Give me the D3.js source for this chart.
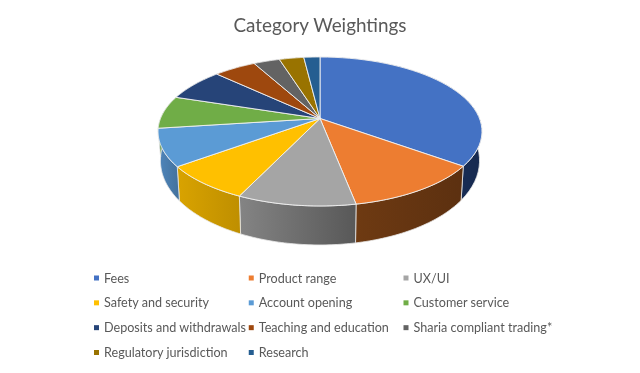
<!DOCTYPE html>
<html>
<head>
<meta charset="utf-8">
<script src="https://d3js.org/d3.v7.min.js"></script>
<style>
    html, body { margin: 0; padding: 0; background: #fff; }
    svg { display: block; filter: blur(0.35px); }
    text { font-family: Lato, "Open Sans", sans-serif; fill: #595959; }
</style>
</head>
<body>
<script>
    const categories = ["Fees", "Product range", "UX/UI", "Safety and security", "Account opening", "Customer service",
        "Deposits and withdrawals", "Teaching and education", "Sharia compliant trading*", "Regulatory jurisdiction", "Research"];
    const weights = [35.1, 11.9, 10.0, 7.8, 8.1, 7.1, 7.1, 5.0, 3.1, 2.9, 1.9];
    const topColours = ["#4472c4", "#ed7d31", "#a5a5a5", "#ffc000", "#5b9bd5", "#70ad47",
        "#264478", "#9e480e", "#636363", "#997300", "#255e91"];
    const wallLeft = ["#2a4478", "#6e3a12", "#848484", "#d9a300", "#4f86bc", "#5f9340",
        "#203a66", "#86400c", "#555555", "#826200", "#20507c"];
    const wallRight = ["#16294f", "#5c3010", "#585858", "#bf8f00", "#44739f", "#4f7a35",
        "#1a2f54", "#6e340a", "#444444", "#6a5000", "#1a4266"];

    const width = 640, height = 373;
    const svg = d3.select("body").append("svg").attr("width", width).attr("height", height);

    svg.append("text")
        .attr("x", 320).attr("y", 32)
        .attr("text-anchor", "middle")
        .attr("font-size", 18.9)
        .text("Category Weightings");

    // tilted disc: perspective puts the apex above the middle of the ellipse
    const cx = 320, cy = 118.5, a = 159.5, b = 72.2, k = 0.1745;
    function project(theta, r, down) {
        const u = r * Math.sin(theta), v = -r * Math.cos(theta);
        const w = 1 - k * v;
        if (!down) return [cx + a * u / w, cy + b * v / w];
        return [cx + 0.985 * a * u / w, cy + b * v / w + 27 + 12 * v];
    }
    const angles = (start, end) => d3.range(0, 41).map(i => start + (end - start) * i / 40);
    const line = d3.line();

    const slices = d3.pie().sort(null).value(d => d)(weights);
    const defs = svg.append("defs");

    // side walls first, the top covers whatever faces away
    const walls = svg.append("g");
    slices.forEach((s, i) => {
        const outer = angles(s.startAngle, s.endAngle);
        const rim = outer.map(t => project(t, 1, false));
        const low = outer.map(t => project(t, 1, true)).reverse();
        const xs = rim.map(p => p[0]);
        const g = defs.append("linearGradient")
            .attr("id", "wall" + i)
            .attr("gradientUnits", "userSpaceOnUse")
            .attr("x1", d3.min(xs)).attr("x2", d3.max(xs))
            .attr("y1", 0).attr("y2", 0);
        g.append("stop").attr("offset", 0).attr("stop-color", wallLeft[i]);
        g.append("stop").attr("offset", 1).attr("stop-color", wallRight[i]);
        walls.append("path")
            .attr("d", line(rim.concat(low)) + "Z")
            .attr("fill", `url(#wall${i})`)
            .attr("stroke", "#e8e8e8")
            .attr("stroke-width", 0.8);
    });

    const tops = svg.append("g");
    slices.forEach((s, i) => {
        const outer = angles(s.startAngle, s.endAngle).map(t => project(t, 1, false));
        tops.append("path")
            .attr("d", line([project(0, 0, false)].concat(outer)) + "Z")
            .attr("fill", topColours[i])
            .attr("stroke", "#f2f2f2")
            .attr("stroke-width", 0.9)
            .attr("stroke-linejoin", "round");
    });

    // legend: three columns, four rows
    const col = d3.scalePoint().domain([0, 1, 2]).range([96.5, 406]);
    const row = d3.scalePoint().domain([0, 1, 2, 3]).range([278, 352.5]);
    const legend = svg.append("g").selectAll("g")
        .data(categories)
        .join("g")
        .attr("transform", (d, i) => `translate(${col(i % 3)},${row(Math.floor(i / 3))})`);
    legend.append("rect")
        .attr("x", -2.5).attr("y", -2.5)
        .attr("width", 5).attr("height", 5)
        .attr("fill", (d, i) => topColours[i]);
    legend.append("text")
        .attr("x", 7.5).attr("y", 4.5)
        .attr("font-size", 12.6)
        .text(d => d);
</script>
</body>
</html>
